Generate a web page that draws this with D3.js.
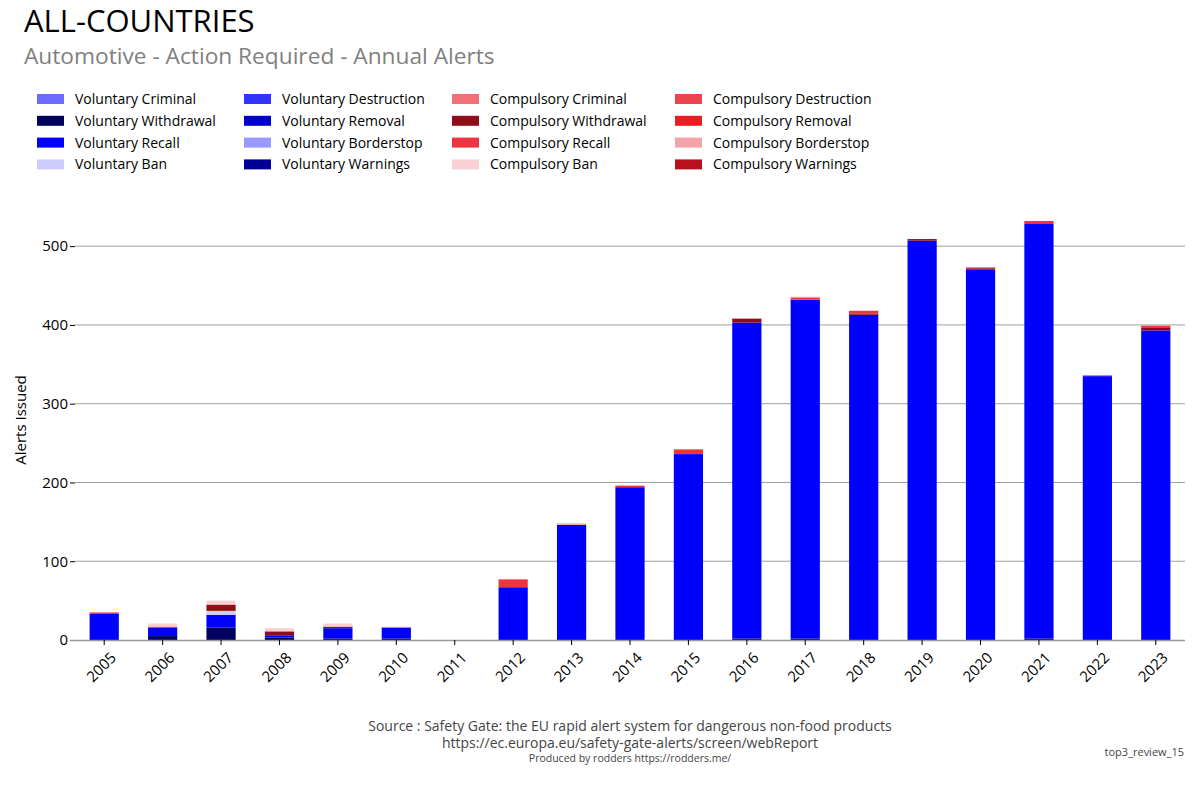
<!doctype html>
<html>
<head>
<meta charset="utf-8"/>
<title>ALL-COUNTRIES - Automotive annual alerts</title>
<script src="https://d3js.org/d3.v7.min.js"></script>
<style>
body { margin:0; background:#fff; }
text { font-family: "Open Sans", "Noto Sans", sans-serif; }
</style>
</head>
<body>
<script>
// data
var years = ["2005","2006","2007","2008","2009","2010","2011","2012","2013","2014","2015","2016","2017","2018","2019","2020","2021","2022","2023"];

var volCriminal     = [0,0,0,0,0,0,0,0,0,0,0,0,0,0,0,0,0,0,0];
var volWithdrawal   = [0,5,16,3,2,2,0,0,0,0,0,2,2,0,0,0,2,0,0];
var volRecall       = [33,11,16,3,13,14,0,67,146,194,236,401,430,413,507,470,527,335,393];
var volBan          = [0,0,5,0,0,0,0,0,0,0,0,0,0,0,0,0,0,0,0];
var volDestruction  = [0,0,0,0,0,0,0,0,0,0,0,0,0,0,0,0,0,0,0];
var volRemoval      = [0,0,0,0,0,0,0,0,0,0,0,0,0,0,0,0,0,0,0];
var volBorderstop   = [0,0,0,0,0,0,0,0,0,0,0,0,0,0,0,0,0,0,0];
var volWarnings     = [0,0,0,0,0,0,0,0,0,0,0,0,0,0,0,0,0,0,0];
var compCriminal    = [0,0,0,0,0,0,0,0,0,0,0,0,0,0,0,0,0,0,0];
var compWithdrawal  = [0,0,8,5,2,0,0,0,0,0,1,5,0,1,2,2,0,0,4];
var compRecall      = [2,1,0,0,0,0,0,10,0,2,5,0,3,4,0,1,3,1,2];
var compBan         = [0,4,5,4,4,1,0,0,0,0,0,0,1,1,0,0,0,0,0];
var compDestruction = [0,0,0,0,0,0,0,0,0,0,0,0,0,0,0,0,0,0,0];
var compRemoval     = [0,0,0,0,0,0,0,0,0,0,0,0,0,0,0,0,0,0,0];
var compBorderstop  = [0,0,0,0,0,0,0,0,2,0,0,0,0,0,0,0,0,0,0];
var compWarnings    = [0,0,0,0,0,0,0,0,0,0,0,0,0,0,0,0,0,0,0];

var seriesNames = ["Voluntary Criminal","Voluntary Withdrawal","Voluntary Recall","Voluntary Ban",
  "Voluntary Destruction","Voluntary Removal","Voluntary Borderstop","Voluntary Warnings",
  "Compulsory Criminal","Compulsory Withdrawal","Compulsory Recall","Compulsory Ban",
  "Compulsory Destruction","Compulsory Removal","Compulsory Borderstop","Compulsory Warnings"];
var seriesValues = [volCriminal,volWithdrawal,volRecall,volBan,volDestruction,volRemoval,volBorderstop,volWarnings,
  compCriminal,compWithdrawal,compRecall,compBan,compDestruction,compRemoval,compBorderstop,compWarnings];
var seriesColors = ["#6b6bff","#00005e","#0000ff","#ccccff","#3333ff","#0000cc","#9999ff","#000099",
  "#f07178","#8f0d18","#ef3340","#f9d0d3","#ee4450","#ed1c24","#f5a3a6","#b8101c"];
var yTicks = [0,100,200,300,400,500];

var W = 1200, H = 800;
var svg = d3.select("body").append("svg").attr("width", W).attr("height", H);

// table for the stack
var rows = years.map(function(y, i){
  var r = {year: y};
  seriesNames.forEach(function(n, k){ r[n] = seriesValues[k][i]; });
  return r;
});
var stacked = d3.stack().keys(seriesNames)(rows);

var x = d3.scaleBand().domain(years).range([75, 1185]).paddingInner(0.5).paddingOuter(0.25);
var y = d3.scaleLinear().domain([0, 558.6]).range([640, 200]);

// titles
svg.append("text").attr("x", 24).attr("y", 32).attr("font-size", 31).attr("fill", "#000").text("ALL-COUNTRIES");
svg.append("text").attr("x", 24).attr("y", 64).attr("font-size", 22.7).attr("fill", "#808080")
  .text("Automotive - Action Required - Annual Alerts");

// legend
var legend = svg.append("g");
seriesNames.forEach(function(n, k){
  var col = Math.floor(k / 4), row = k % 4;
  var lx = [37, 244, 452, 675][col], ly = 99 + row * 21.8;
  legend.append("rect").attr("x", lx).attr("y", ly - 5).attr("width", 27).attr("height", 10).attr("fill", seriesColors[k]);
  legend.append("text").attr("x", lx + 38).attr("y", ly + 5).attr("font-size", 14).attr("fill", "#000").text(n);
});

// gridlines
svg.append("g").selectAll("line").data(yTicks.slice(1)).enter().append("line")
  .attr("x1", 75).attr("x2", 1185)
  .attr("y1", function(d){ return y(d); }).attr("y2", function(d){ return y(d); })
  .attr("stroke", "#a0a0a0").attr("stroke-width", 1);

// bars
svg.append("g").selectAll("g").data(stacked).enter().append("g")
  .attr("fill", function(d, k){ return seriesColors[k]; })
  .selectAll("rect").data(function(d){ return d; }).enter().append("rect")
  .attr("x", function(d){ return x(d.data.year); })
  .attr("width", x.bandwidth())
  .attr("y", function(d){ return y(d[1]); })
  .attr("height", function(d){ return y(d[0]) - y(d[1]); });

// y axis
var yAxis = svg.append("g").attr("transform", "translate(75,0)")
  .call(d3.axisLeft(y).tickValues(yTicks).tickSize(5).tickPadding(2));
yAxis.select(".domain").remove();
yAxis.selectAll("text").attr("font-size", 15).attr("fill", "#000").style("font-family", "'Open Sans', sans-serif");
yAxis.selectAll("line").attr("stroke", "#000");

// x axis
var xAxis = svg.append("g").attr("transform", "translate(0,640)")
  .call(d3.axisBottom(x).tickSize(5).tickSizeOuter(0));
xAxis.select(".domain").attr("stroke", "#999").attr("stroke-width", 1.5).attr("d", "M70,0.5H1185");
xAxis.selectAll("line").attr("stroke", "#000");
xAxis.selectAll("text")
  .attr("font-size", 15).attr("fill", "#000").style("font-family", "'Open Sans', sans-serif")
  .attr("text-anchor", "middle").attr("dy", null).attr("y", 0)
  .attr("transform", "translate(-2,28) rotate(-45)")
  .attr("dominant-baseline", "middle");

// y label
svg.append("text").attr("transform", "translate(26,420) rotate(-90)")
  .attr("text-anchor", "middle").attr("font-size", 15).attr("fill", "#000").text("Alerts Issued");

// footer
svg.append("text").attr("x", 630).attr("y", 731).attr("text-anchor", "middle").attr("font-size", 14).attr("fill", "#444")
  .text("Source : Safety Gate: the EU rapid alert system for dangerous non-food products");
svg.append("text").attr("x", 630).attr("y", 748).attr("text-anchor", "middle").attr("font-size", 14).attr("fill", "#444")
  .text("https://ec.europa.eu/safety-gate-alerts/screen/webReport");
svg.append("text").attr("x", 630).attr("y", 762).attr("text-anchor", "middle").attr("font-size", 10.5).attr("fill", "#444")
  .text("Produced by rodders https://rodders.me/");
svg.append("text").attr("x", 1184).attr("y", 756).attr("text-anchor", "end").attr("font-size", 11).attr("fill", "#444")
  .text("top3_review_15");
</script>
</body>
</html>
